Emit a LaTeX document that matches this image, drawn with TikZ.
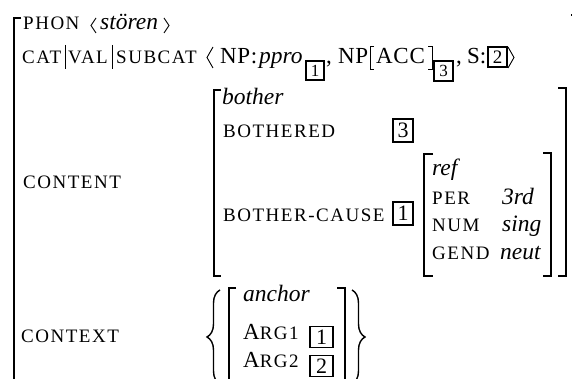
\documentclass[tikz,border=0pt]{standalone}
\usepackage{fontspec}
\setmainfont{Liberation Serif}
\newfontfamily\scf[LetterSpace=8]{Liberation Serif}
\newfontfamily\rmwide[LetterSpace=3]{Liberation Serif}
\usetikzlibrary{decorations.pathreplacing}
\begin{document}
\begin{tikzpicture}[x=1pt,y=-1pt,
  every node/.style={inner sep=0pt, anchor=base west},
  sc/.style={font=\scf\fontsize{19}{19}\selectfont},
  rmt/.style={font=\fontsize{23}{23}\selectfont},
  rmw/.style={font=\rmwide\fontsize{23}{23}\selectfont},
  itt/.style={font=\fontsize{23.5}{23.5}\selectfont\itshape},
  brk/.style={line width=1.6pt},
  thin/.style={line width=0.9pt},
  tag/.style={draw, line width=1.8pt, anchor=center, inner sep=0pt},
  bigtag/.style={tag, font=\fontsize{22}{22}\selectfont},
  subtag/.style={tag, font=\fontsize{17}{17}\selectfont},
  brace/.style={decorate, decoration={brace, amplitude=13pt}, line width=1.4pt}
]
\useasboundingbox (0,0) rectangle (573,379);
\clip (0,0) rectangle (573,379);
% outer bracket
\draw[brk] (21,18) -- (14,18) -- (14,390);
\fill (570.5,14.5) rectangle (572,16);
% row 1
\node[sc] (phon) at (23,30) {PHON};
\draw[thin] (96,18) -- (91,25.5) -- (96,33);
\node[itt] (storen) at (100,30) {st\"oren};
\draw[thin] (164,18) -- (169,25.5) -- (164,33);
% row 2
\node[sc] (cat) at (22,64) {CAT};
\draw[line width=1pt] (65,45) -- (65,69);
\node[sc] (val) at (68,64) {VAL};
\draw[line width=1pt] (112,45) -- (112,69);
\node[sc] (subcat) at (116,64) {SUBCAT};
\draw[thin] (213,47) -- (207,57.5) -- (213,68);
\node[rmw] (np1) at (220,64) {NP:};
\node[itt] (ppro) at (259,64) {ppro};
\node[subtag, minimum width=18pt, minimum height=19pt] (s1) at (315,70.5) {1};
\node[rmt] (c1) at (326,64) {,};
\node[rmw] (np2) at (338,64) {NP};
\draw[line width=1pt] (374,47) -- (370,47) -- (370,70) -- (374,70);
\node[rmw] (acc) at (376,64) {ACC};
\draw[line width=1pt] (428,47) -- (432,47) -- (432,70) -- (428,70);
\node[subtag, minimum width=19pt, minimum height=20pt] (s3) at (443.5,71) {3};
\node[rmt] (c2) at (456,64) {,};
\node[rmt] (sc2) at (467,64) {S:};
\node[tag, font=\fontsize{19}{19}\selectfont, minimum width=19pt, minimum height=20pt] (s2) at (497.5,57) {2};
\draw[thin] (508,47) -- (514,57.5) -- (508,68);
% content
\node[sc] (content) at (23,189) {CONTENT};
\draw[brk] (221,90) -- (214,90) -- (214,276) -- (221,276);
\draw[brk] (558,88) -- (566,88) -- (566,276) -- (558,276);
\node[itt] (bother) at (222,105) {bother};
\node[sc] (bothered) at (223,138) {BOTHERED};
\node[bigtag, minimum width=20pt, minimum height=23pt] (t3) at (403,130.5) {3};
\node[sc] (bcause) at (223,222) {BOTHER-CAUSE};
\node[bigtag, minimum width=20pt, minimum height=23pt] (t1) at (403,213.5) {1};
\draw[brk] (433,154) -- (424,154) -- (424,276) -- (433,276);
\draw[brk] (543,153) -- (551,153) -- (551,276) -- (543,276);
\node[itt] (ref) at (432,176) {ref};
\node[sc] (per) at (432,205) {PER};
\node[itt] (rd) at (502,205) {3rd};
\node[sc] (num) at (432,232) {NUM};
\node[itt] (sing) at (502,232) {sing};
\node[sc] (gend) at (432,260) {GEND};
\node[itt] (neut) at (500,260) {neut};
% context
\node[sc] (context) at (21,342) {CONTEXT};
\draw[brace] (220,384) -- (220,290);
\draw[brace] (352,290) -- (352,384);
\draw[brk] (236,288) -- (229,288) -- (229,390);
\draw[brk] (337,288) -- (345,288) -- (345,390);
\node[itt] (anchor) at (243,302) {anchor};
\node[rmt] (arg1) at (243,339) {A\scf\fontsize{19}{19}\selectfont RG1};
\node[bigtag, minimum width=23pt, minimum height=21pt] (a1) at (321.5,337) {1};
\node[rmt] (arg2) at (243,367) {A\scf\fontsize{19}{19}\selectfont RG2};
\node[bigtag, minimum width=23pt, minimum height=21pt] (a2) at (321.5,366) {2};
\end{tikzpicture}
\end{document}
